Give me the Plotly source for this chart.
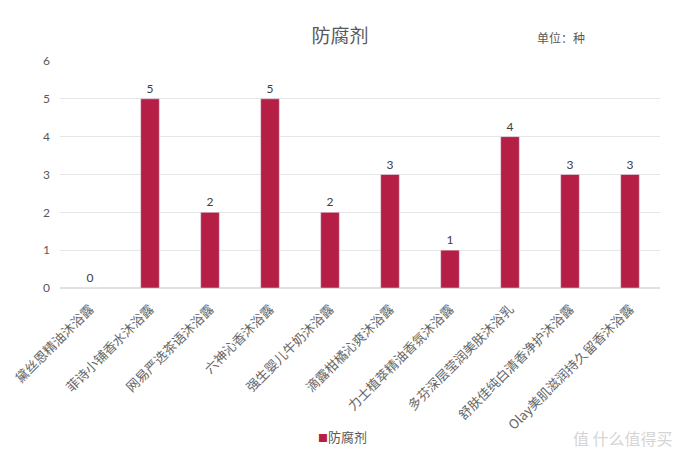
import plotly.graph_objects as go

categories = ["黛丝恩精油沐浴露", "菲诗小铺香水沐浴露", "网易严选茶语沐浴露", "六神沁香沐浴露",
              "强生婴儿牛奶沐浴露", "滴露柑橘沁爽沐浴露", "力士植萃精油香氛沐浴露",
              "多芬深层莹润美肤沐浴乳", "舒肤佳纯白清香净护沐浴露", "Olay美肌滋润持久留香沐浴露"]
values = [0, 5, 2, 5, 2, 3, 1, 4, 3, 3]
series_name = "防腐剂"
y_ticks = [0, 1, 2, 3, 4, 5, 6]
BAR_COLOR = "#B51E45"

FONT = "Lato, Noto Sans CJK SC, sans-serif"
fig = go.Figure()
fig.add_trace(go.Bar(
    x=categories, y=values, name=series_name,
    marker=dict(color=BAR_COLOR),
    width=0.31,
    text=[str(v) for v in values], textposition="outside",
    textfont=dict(size=12, color="#404040", family=FONT),
    cliponaxis=False,
    showlegend=False,
))
fig.update_layout(
    width=680, height=461,
    paper_bgcolor="white", plot_bgcolor="white",
    margin=dict(l=60, r=20, t=61, b=173),
    title=dict(text="防腐剂", x=0.5, xanchor="center", y=0.922, yanchor="middle",
               font=dict(size=19, color="#595959", family="Noto Sans CJK SC")),
    font=dict(family=FONT, color="#595959"),
    xaxis=dict(tickangle=-45, tickfont=dict(size=13, color="#666666", family="Noto Sans CJK SC"),
               showline=False, showgrid=False, ticks="", automargin=False, ticklabelstandoff=10),
    yaxis=dict(range=[0, 6], tickvals=y_ticks, showgrid=True, gridcolor="#E6E6E6",
               tickfont=dict(size=12, color="#595959", family=FONT), zeroline=True,
               zerolinecolor="#E0E0E0", ticks="", ticklabelstandoff=9, automargin=False),
    bargap=0.7,
)
fig.add_annotation(text="单位：种", xref="paper", yref="paper", x=0.835, y=1.105,
                   showarrow=False, xanchor="center", yanchor="middle",
                   font=dict(size=12, color="#595959", family="Noto Sans CJK SC"))
fig.add_annotation(text=f"<span style='color:{BAR_COLOR};font-size:10px'>■</span>{series_name}",
                   xref="paper", yref="paper", x=0.47, y=-0.655,
                   showarrow=False, xanchor="center", yanchor="middle",
                   font=dict(size=13, color="#595959", family="Noto Sans CJK SC"))
fig.add_annotation(text="值 什么值得买", xref="paper", yref="paper", x=1.025, y=-0.66,
                   showarrow=False, xanchor="right", yanchor="middle",
                   font=dict(size=16, color="#D5D5D5", family="Noto Sans CJK SC"))
fig.write_html("out.html", config={"displayModeBar": False},
               post_script="document.body.style.margin='0';")
